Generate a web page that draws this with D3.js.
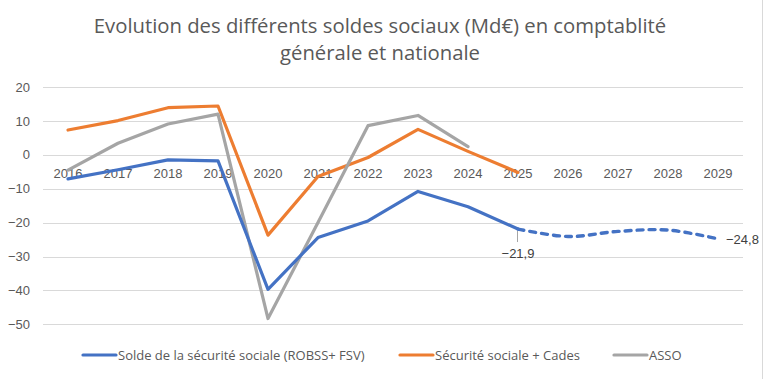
<!DOCTYPE html>
<html>
<head>
<meta charset="utf-8">
<script src="https://cdn.jsdelivr.net/npm/d3@7"></script>
<style>
  body { margin: 0; background: #fff; }
  svg { display: block; }
</style>
</head>
<body>
<div class="chart"></div>
<script>
// years shown on the category axis
const years = ["2016","2017","2018","2019","2020","2021","2022","2023","2024","2025","2026","2027","2028","2029"];
// Solde de la sécurité sociale (ROBSS+ FSV), 2025-2029 = projection (dashed)
const solde = [-7.1, -4.4, -1.5, -1.8, -39.7, -24.4, -19.5, -10.8, -15.3, -21.9, -24.1, -22.6, -22.2, -24.8];
// Sécurité sociale + Cades
const cades = [7.3, 10.1, 13.9, 14.4, -23.7, -6.4, -0.8, 7.5, 1.0, -5.2];
// ASSO
const asso = [-4.5, 3.4, 9.1, 12.0, -48.3, -20.0, 8.6, 11.6, 2.4];
const yTicks = [20, 10, 0, -10, -20, -30, -40, -50];
const lastActual = "2025";

const width = 763, height = 379;
const svg = d3.select('.chart').append('svg')
    .attr('width', width)
    .attr('height', height);

// chart border (only right edge visible)
svg.append('line')
    .attr('x1', 762.5).attr('x2', 762.5)
    .attr('y1', 0).attr('y2', height)
    .attr('stroke', '#d9d9d9');

// title
const title = svg.append('text')
    .attr('text-anchor', 'middle')
    .attr('fill', '#595959')
    .style('font-family', '"Open Sans", sans-serif')
    .style('font-size', '20.3px');
title.append('tspan').attr('x', 380).attr('y', 33).text("Evolution des différents soldes sociaux (Md€) en comptablité");
title.append('tspan').attr('x', 380).attr('y', 60).text("générale et nationale");

var x = d3.scaleBand().domain(years).range([43, 743]);
var y = d3.scaleLinear().domain([-50, 20]).range([324.3, 87]);
const cx = d => x(d) + x.bandwidth() / 2;

// gridlines
svg.append('g')
    .selectAll('line')
    .data(yTicks)
    .enter()
    .append('line')
    .attr('x1', 43).attr('x2', 743)
    .attr('y1', d => Math.round(y(d)) + 0.5)
    .attr('y2', d => Math.round(y(d)) + 0.5)
    .attr('stroke', '#d9d9d9')
    .attr('stroke-width', 1);

// y axis labels
const yAxis = svg.append('g')
    .attr('transform', 'translate(43,0)')
    .call(d3.axisLeft(y).tickValues(yTicks).tickSize(0).tickPadding(13).tickFormat(d3.format('d')));
yAxis.select('.domain').remove();

// x axis labels, sitting below the 0 line
const xAxis = svg.append('g')
    .attr('transform', 'translate(0,' + y(0) + ')')
    .call(d3.axisBottom(x).tickSize(0).tickPadding(14));
xAxis.select('.domain').remove();

svg.selectAll('.tick text')
    .attr('fill', '#595959')
    .style('font-family', '"Liberation Sans", Arial, sans-serif')
    .style('font-size', '13px');

const line = d3.line()
    .x((d, i) => cx(years[i]))
    .y(d => y(d));

// orange and gray series
svg.append('path')
    .datum(cades)
    .attr('d', line)
    .attr('fill', 'none')
    .attr('stroke', '#ED7D31')
    .attr('stroke-width', 3.2)
    .attr('stroke-linejoin', 'round')
    .attr('stroke-linecap', 'round');

svg.append('path')
    .datum(asso)
    .attr('d', line)
    .attr('fill', 'none')
    .attr('stroke', '#A5A5A5')
    .attr('stroke-width', 3.2)
    .attr('stroke-linejoin', 'round')
    .attr('stroke-linecap', 'round');

// blue series: solid up to 2025, then dashed smooth projection
const cut = years.indexOf(lastActual);
const soldePts = solde.map((v, i) => [cx(years[i]), y(v)]);
svg.append('path')
    .datum(soldePts.slice(0, cut + 1))
    .attr('d', d3.line())
    .attr('fill', 'none')
    .attr('stroke', '#4472C4')
    .attr('stroke-width', 3.2)
    .attr('stroke-linejoin', 'round')
    .attr('stroke-linecap', 'round');

svg.append('path')
    .datum(soldePts.slice(cut))
    .attr('d', d3.line().curve(d3.curveCatmullRom.alpha(0.5)))
    .attr('fill', 'none')
    .attr('stroke', '#4472C4')
    .attr('stroke-width', 3.4)
    .attr('stroke-dasharray', '6,6')
    .attr('stroke-linecap', 'round');

// data labels
svg.append('line')
    .attr('x1', cx(lastActual) - 0.5).attr('x2', cx(lastActual) - 0.5)
    .attr('y1', y(solde[cut]) + 2).attr('y2', y(solde[cut]) + 13)
    .attr('stroke', '#a6a6a6')
    .attr('stroke-width', 1);

const labelStyle = sel => sel
    .attr('fill', '#404040')
    .style('font-family', '"Liberation Sans", Arial, sans-serif')
    .style('font-size', '13px');

svg.append('text')
    .attr('x', cx(lastActual))
    .attr('y', y(solde[cut]) + 29)
    .attr('text-anchor', 'middle')
    .text(d3.format('.1f')(solde[cut]).replace('.', ','))
    .call(labelStyle);

const last = solde.length - 1;
svg.append('text')
    .attr('x', cx(years[last]) + 8)
    .attr('y', y(solde[last]) + 5)
    .attr('text-anchor', 'start')
    .text(d3.format('.1f')(solde[last]).replace('.', ','))
    .call(labelStyle);

// legend
const legendItems = [
    { name: "Solde de la sécurité sociale (ROBSS+ FSV)", color: '#4472C4', x: 83 },
    { name: "Sécurité sociale + Cades", color: '#ED7D31', x: 400 },
    { name: "ASSO", color: '#A5A5A5', x: 614 }
];
const legend = svg.append('g')
    .selectAll('g')
    .data(legendItems)
    .enter()
    .append('g')
    .attr('transform', d => 'translate(' + d.x + ',355)');
legend.append('line')
    .attr('x1', 0).attr('x2', 33)
    .attr('y1', 0).attr('y2', 0)
    .attr('stroke', d => d.color)
    .attr('stroke-width', 3.2)
    .attr('stroke-linecap', 'round');
legend.append('text')
    .attr('x', 35)
    .attr('y', 4.5)
    .text(d => d.name)
    .attr('fill', '#595959')
    .style('font-family', '"Open Sans", sans-serif')
    .style('font-size', '13px');
</script>
</body>
</html>
